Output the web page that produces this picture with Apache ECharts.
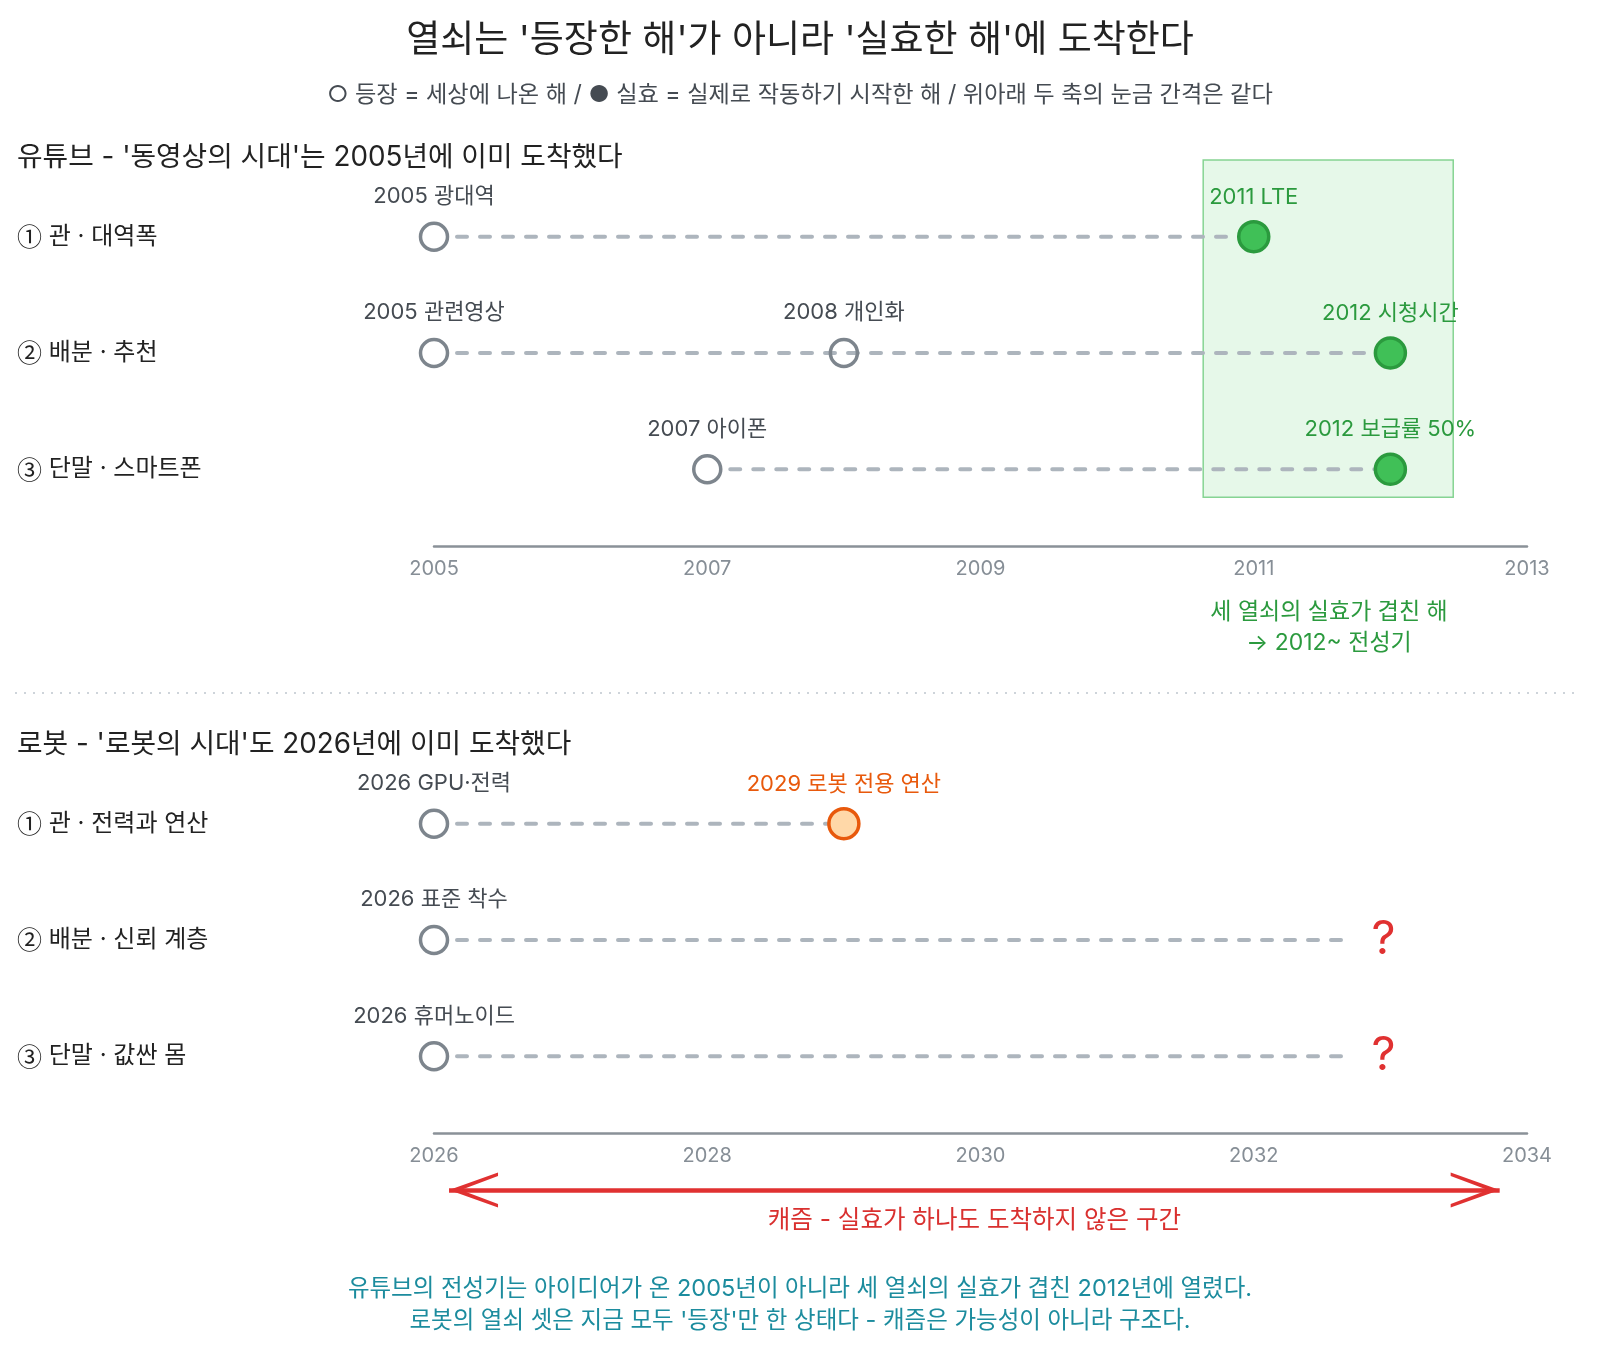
<!DOCTYPE html>
<html>
<head>
<meta charset="utf-8">
<title>열쇠는 '등장한 해'가 아니라 '실효한 해'에 도착한다</title>
<script src="https://cdn.jsdelivr.net/npm/echarts@6/dist/echarts.min.js"></script>
<style>
    html, body { margin: 0; padding: 0; background: #fff; overflow: hidden; }
    #chart { width: 1600px; height: 1357px; }
</style>
</head>
<body>
<div id="chart"></div>
<script>
// 유튜브 (위 축)
var ytRows = ['① 관 · 대역폭', '② 배분 · 추천', '③ 단말 · 스마트폰'];
var ytAppearYear = [2005, 2005, 2008, 2007];
var ytAppearRow = [0, 1, 1, 2];
var ytAppearText = ['2005 광대역', '2005 관련영상', '2008 개인화', '2007 아이폰'];
var ytEffectYear = [2011, 2012, 2012];
var ytEffectText = ['2011 LTE', '2012 시청시간', '2012 보급률 50%'];
var ytTicks = [2005, 2013, 2];        // min, max, interval
var ytPeak = [2010.63, 2012.46];      // 실효가 겹친 구간

// 로봇 (아래 축)
var rbRows = ['① 관 · 전력과 연산', '② 배분 · 신뢰 계층', '③ 단말 · 값싼 몸'];
var rbAppearYear = [2026, 2026, 2026];
var rbAppearText = ['2026 GPU·전력', '2026 표준 착수', '2026 휴머노이드'];
var rbEffectYear = [2029];
var rbEffectText = ['2029 로봇 전용 연산'];
var rbLineEnd = [2029, 2032.7, 2032.7];
var rbUnknownYear = [2032.95, 2032.95];
var rbUnknownRow = [1, 2];
var rbTicks = [2026, 2034, 2];
var rbGap = [2026.11, 2033.8];        // 캐즘 화살표

var FONT = "Inter, 'Noto Sans CJK KR', sans-serif";
var CJK = "'Noto Sans CJK KR', sans-serif";
var GRAY_TEXT = '#454b52';
var GREEN = '#2b9a3e';
var ORANGE = '#e8590c';
var RED = '#e03131';

// chevron pointing up, tip in the middle of the box
var chevron = 'path://M50,0 M50,50 L100,100 L90,100 L50,62 L10,100 L0,100 Z';

function rowStarts(years, rows, n) {
    var starts = [];
    for (var i = 0; i < n; i++) { starts.push(Infinity); }
    years.forEach(function (y, i) {
        starts[rows[i]] = Math.min(starts[rows[i]], y);
    });
    return starts;
}

function lineSeries(starts, ends, idx) {
    return starts.map(function (s, i) {
        return {
            type: 'line', xAxisIndex: idx, yAxisIndex: idx, silent: true, z: 2,
            symbol: 'none',
            data: [[s, i], [ends[i], i]],
            lineStyle: { color: '#adb5bd', width: 4, type: [10, 13], cap: 'round' }
        };
    });
}

function appearSeries(years, rows, texts, starts, idx) {
    return {
        type: 'scatter', xAxisIndex: idx, yAxisIndex: idx, silent: true, z: 4,
        symbolSize: 27,
        data: years.map(function (y, i) {
            return {
                value: [y, rows[i]], name: texts[i],
                itemStyle: { color: y > starts[rows[i]] ? 'rgba(255,255,255,0)' : '#fff' }
            };
        }),
        itemStyle: { borderColor: '#7d858d', borderWidth: 3.5, opacity: 1 },
        label: {
            show: true, position: 'top', distance: 14, formatter: '{b}',
            fontSize: 22, color: GRAY_TEXT, fontFamily: FONT
        }
    };
}

function effectSeries(years, texts, idx, fill, stroke, textColor) {
    return {
        type: 'scatter', xAxisIndex: idx, yAxisIndex: idx, silent: true, z: 4,
        symbolSize: 30,
        data: years.map(function (y, i) { return { value: [y, i], name: texts[i] }; }),
        itemStyle: { color: fill, borderColor: stroke, borderWidth: 3.5, opacity: 1 },
        label: {
            show: true, position: 'top', distance: 12, formatter: '{b}',
            fontSize: 22, color: textColor, fontFamily: FONT
        }
    };
}

function xAxisFor(ticks, idx) {
    return {
        gridIndex: idx, type: 'value', min: ticks[0], max: ticks[1], interval: ticks[2],
        axisLine: { show: true, onZero: false, lineStyle: { color: '#8a9198', width: 2.5 } },
        axisTick: { show: false },
        splitLine: { show: false },
        axisLabel: {
            fontSize: 20, color: '#868e96', margin: 13, fontFamily: FONT,
            formatter: function (v) { return String(v); }
        }
    };
}

function yAxisFor(rows, idx) {
    return {
        gridIndex: idx, type: 'value', min: -0.72, max: 2.66, inverse: true,
        axisLine: { show: false }, axisTick: { show: false }, splitLine: { show: false },
        axisLabel: {
            customValues: [0, 1, 2],
            formatter: function (v) {
                var s = rows[Math.round(v)];
                return '{n|' + s.charAt(0) + '}{t|' + s.slice(1) + '}';
            },
            align: 'left', margin: 417, fontSize: 24, color: '#222', fontFamily: FONT,
            rich: {
                n: { fontFamily: CJK, fontSize: 25, color: '#222', verticalAlign: 'middle' },
                t: { fontFamily: FONT, fontSize: 24, color: '#222', verticalAlign: 'middle' }
            }
        }
    };
}

function text(str, x, y, size, color, align) {
    return {
        type: 'text', x: x, y: y, silent: true,
        style: {
            text: str, fill: color, font: size + 'px ' + FONT,
            textAlign: align || 'left', textVerticalAlign: 'middle'
        }
    };
}

var ytStarts = rowStarts(ytAppearYear, ytAppearRow, 3);
var rbStarts = rbAppearYear.slice();

var chart = echarts.init(document.getElementById('chart'));

var series = [];
series = series.concat(lineSeries(ytStarts, ytEffectYear, 0));
series.push(appearSeries(ytAppearYear, ytAppearRow, ytAppearText, ytStarts, 0));
series.push(effectSeries(ytEffectYear, ytEffectText, 0, '#40c057', GREEN, GREEN));
series.push({
    type: 'scatter', xAxisIndex: 0, yAxisIndex: 0, silent: true, z: 1, data: [],
    markArea: {
        silent: true,
        itemStyle: { color: 'rgba(81,207,102,0.14)', borderColor: '#86d493', borderWidth: 1.5 },
        data: [[{ coord: [ytPeak[0], -0.66] }, { coord: [ytPeak[1], 2.24] }]]
    }
});

series = series.concat(lineSeries(rbStarts, rbLineEnd, 1));
series.push(appearSeries(rbAppearYear, [0, 1, 2], rbAppearText, rbStarts, 1));
series.push(effectSeries(rbEffectYear, rbEffectText, 1, '#ffd8a8', ORANGE, ORANGE));
series.push({
    type: 'scatter', xAxisIndex: 1, yAxisIndex: 1, silent: true, z: 4,
    symbolSize: 1, itemStyle: { color: 'rgba(0,0,0,0)', opacity: 1 },
    data: rbUnknownYear.map(function (y, i) { return [y, rbUnknownRow[i]]; }),
    label: { show: true, position: 'inside', formatter: '?', fontSize: 47, color: RED, fontFamily: FONT }
});

series.push({
    type: 'line', xAxisIndex: 2, yAxisIndex: 2, silent: true, data: [],
    markLine: {
        silent: true,
        symbol: [chevron, chevron],
        symbolSize: [35, 98],
        lineStyle: { color: RED, width: 4.5, type: 'solid' },
        label: {
            show: true, position: 'insideMiddleBottom', distance: 18,
            formatter: '캐즘 - 실효가 하나도 도착하지 않은 구간',
            fontSize: 24.5, color: '#d9302f', fontFamily: FONT
        },
        emphasis: { disabled: true },
        data: [[{ coord: [rbGap[0], 0] }, { coord: [rbGap[1], 0] }]]
    }
});

chart.setOption({
    animation: false,
    textStyle: { fontFamily: FONT },
    grid: [
        { left: 434, right: 73, top: 153, height: 393 },
        { left: 434, right: 73, top: 740, height: 393 },
        { left: 434, right: 73, top: 1170, height: 40 }
    ],
    xAxis: [
        xAxisFor(ytTicks, 0),
        xAxisFor(rbTicks, 1),
        { gridIndex: 2, type: 'value', min: rbTicks[0], max: rbTicks[1], show: false }
    ],
    yAxis: [
        yAxisFor(ytRows, 0),
        yAxisFor(rbRows, 1),
        { gridIndex: 2, type: 'value', min: -1, max: 1, show: false }
    ],
    graphic: [
        text("열쇠는 '등장한 해'가 아니라 '실효한 해'에 도착한다", 800, 41, 37, '#222', 'center'),
        text('○ 등장 = 세상에 나온 해 / ● 실효 = 실제로 작동하기 시작한 해 / 위아래 두 축의 눈금 간격은 같다', 800, 95, 23.2, '#454b52', 'center'),
        text("유튜브 - '동영상의 시대'는 2005년에 이미 도착했다", 17, 158, 27.8, '#222'),
        text('세 열쇠의 실효가 겹친 해', 1329, 612, 23, GREEN, 'center'),
        text('→ 2012~ 전성기', 1329, 643, 23, GREEN, 'center'),
        {
            type: 'line', silent: true,
            shape: { x1: 15, y1: 693, x2: 1580, y2: 693 },
            style: { stroke: '#ced4da', lineWidth: 2, lineDash: [2, 7] }
        },
        text("로봇 - '로봇의 시대'도 2026년에 이미 도착했다", 17, 745, 27.8, '#222'),
        text('유튜브의 전성기는 아이디어가 온 2005년이 아니라 세 열쇠의 실효가 겹친 2012년에 열렸다.', 800, 1289, 23.5, '#1c8c9e', 'center'),
        text("로봇의 열쇠 셋은 지금 모두 '등장'만 한 상태다 - 캐즘은 가능성이 아니라 구조다.", 800, 1321, 23.5, '#1c8c9e', 'center')
    ],
    series: series
});
</script>
</body>
</html>
